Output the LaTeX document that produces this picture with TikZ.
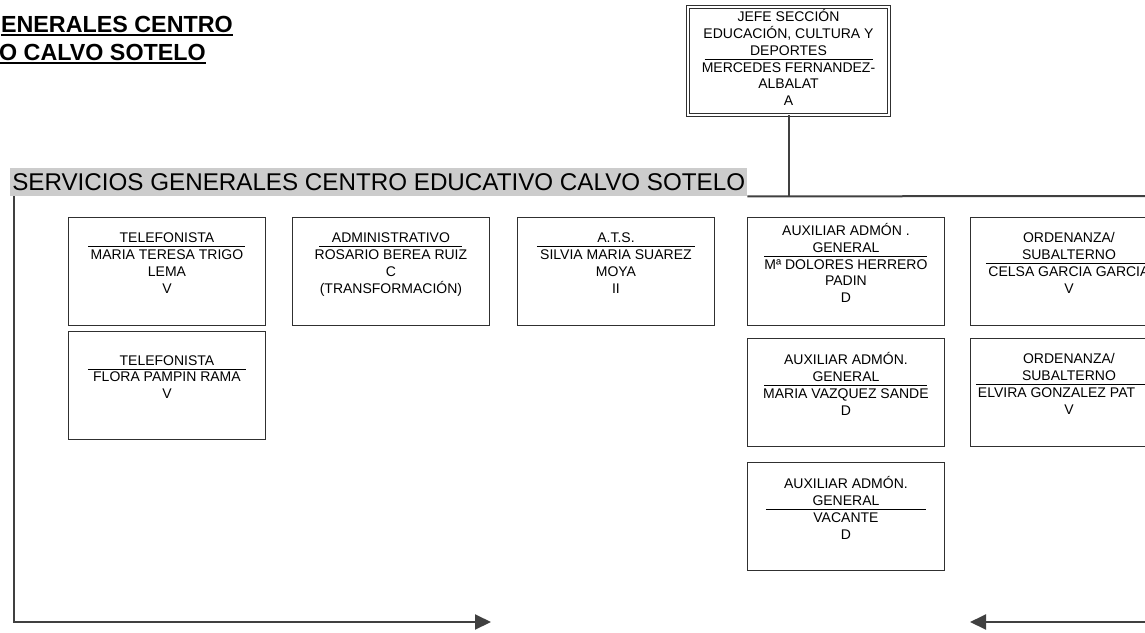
\documentclass[tikz,border=0pt]{standalone}
\usepackage{fontspec}
\setmainfont{Liberation Sans}
\usetikzlibrary{arrows.meta,positioning}
\definecolor{boxline}{HTML}{303030}
\definecolor{linkgray}{HTML}{404040}
\definecolor{barfill}{HTML}{CCCCCC}
% rule between post title and holder, takes no height
\newcommand{\sepline}[1]{\\[-16.8pt]\smash{\rule[-4.5pt]{#1pt}{0.9pt}}\\}

\begin{document}
\begin{tikzpicture}[
  x=1pt, y=-1pt,
  >={Triangle[length=16pt,width=15pt]},
  post/.style={draw=boxline, line width=0.9pt, anchor=north west,
    minimum width=197pt, minimum height=108pt, inner sep=0pt, align=center,
    font=\fontsize{14}{16.8}\selectfont},
  boss/.style={post, anchor=center, double, double distance=2pt,
    line width=1.1pt, minimum width=200.5pt, minimum height=107.5pt},
  bar/.style={fill=barfill, anchor=north west, minimum width=737pt,
    minimum height=28pt, inner sep=0pt, font=\fontsize{24.2}{28}\selectfont},
  heading/.style={anchor=base east, inner sep=0pt,
    font=\fontsize{23.3}{28}\selectfont\bfseries},
  link/.style={draw=linkgray, line width=2pt}
]
\useasboundingbox (0,0) rectangle (1145,632);
\clip (0,0) rectangle (1145,632);

\node[heading] (head1) at (233,32) {ENERALES CENTRO};
\node[heading] (head2) at (206,60) {O CALVO SOTELO};
\draw[line width=2pt] ([yshift=-2.5pt]head1.base west) -- ([yshift=-2.5pt]head1.base east);
\draw[line width=2pt] ([yshift=-2.5pt]head2.base west) -- ([yshift=-2.5pt]head2.base east);

\node[boss] (jefe) at (788.5,61)
  {JEFE SECCIÓN\\EDUCACIÓN, CULTURA Y\\DEPORTES\sepline{168}MERCEDES FERNANDEZ-\\ALBALAT\\A\\[-10pt]\mbox{}};

\node[bar] (bar) at (10,168) {SERVICIOS GENERALES CENTRO EDUCATIVO CALVO SOTELO};

\node[post] (tel1) at (68,217)
  {TELEFONISTA\sepline{157}MARIA TERESA TRIGO\\LEMA\\V\\\mbox{}};
\node[post, below=5pt of tel1] (tel2)
  {TELEFONISTA\sepline{158}FLORA PAMPIN RAMA\\V\\\mbox{}};
\node[post] (admin) at (292,217)
  {ADMINISTRATIVO\sepline{143}ROSARIO BEREA RUIZ\\C\\(TRANSFORMACIÓN)\\\mbox{}};
\node[post] (ats) at (517,217)
  {A.T.S.\sepline{158}SILVIA MARIA SUAREZ\\MOYA\\II\\\mbox{}};
\node[post] (aux1) at (747,217)
  {AUXILIAR ADMÓN .\\GENERAL\sepline{163}Mª DOLORES HERRERO\\PADIN\\D\\\mbox{}};
\node[post, below=12pt of aux1] (aux2)
  {AUXILIAR ADMÓN.\\GENERAL\sepline{163}MARIA VAZQUEZ SANDE\\D\\\mbox{}};
\node[post, below=15pt of aux2] (aux3)
  {AUXILIAR ADMÓN.\\GENERAL\sepline{160}VACANTE\\D\\\mbox{}};
\node[post] (ord1) at (970,217)
  {ORDENANZA/\\SUBALTERNO\sepline{166}CELSA GARCIA GARCIA\\V\\\mbox{}};
\node[post, below=12pt of ord1] (ord2)
  {ORDENANZA/\\SUBALTERNO\sepline{186}ELVIRA GONZALEZ PAT\phantom{IÑO}\\V\\\mbox{}};

\coordinate (rightedge) at (1150,196);
\coordinate (leftarrow) at (491,622);
\coordinate (rightfeed) at (1150,622);
\coordinate (rightarrow) at (970,622);

\draw[link] (jefe.south) -- (jefe.south |- bar.south);
\draw[link] (bar.south east) -- (rightedge);
\draw[link,->] ([xshift=4pt]bar.south west) |- (leftarrow);
\draw[link,->] (rightfeed) -- (rightarrow);

\end{tikzpicture}
\end{document}
